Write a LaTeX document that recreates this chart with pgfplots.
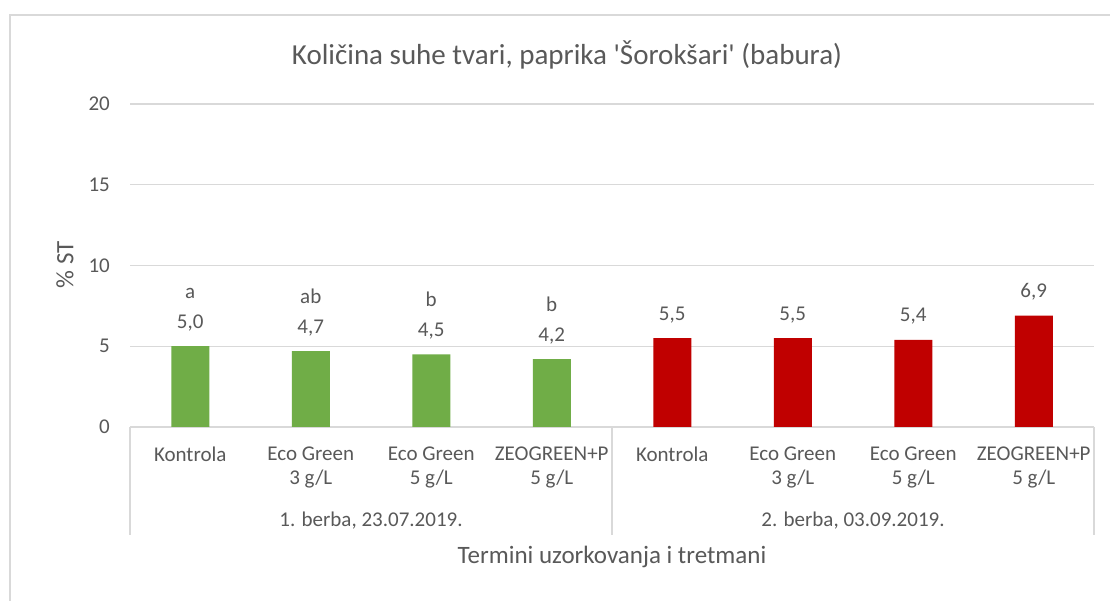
\documentclass[border=0pt]{standalone}
\usepackage{pgfplots}
\pgfplotsset{compat=1.18}
\usepackage{fontspec}
\setmainfont{Carlito}
\definecolor{txt}{HTML}{595959}
\definecolor{gridc}{HTML}{D9D9D9}
\definecolor{gr}{HTML}{70AD47}
\definecolor{rd}{HTML}{C00000}
\newcommand{\fs}[1]{\fontsize{#1}{#1}\selectfont}
\begin{document}
\begin{tikzpicture}[x=1pt,y=1pt]
\useasboundingbox (0,0) rectangle (1110,601);
\fill[white] (0,0) rectangle (1110,601);
\draw[gridc, line width=1.5pt] (10,0) -- (10,586) -- (1110,586);
\begin{axis}[
  at={(130pt,174pt)}, anchor=south west,
  scale only axis, width=964pt, height=323pt,
  xmin=-0.5, xmax=7.5, ymin=0, ymax=20,
  ytick={0,5,10,15,20},
  xtick={0,...,7},
  xticklabels={Kontrola,{Eco Green\\3 g/L},{Eco Green\\5 g/L},{ZEOGREEN+P\\5 g/L},Kontrola,{Eco Green\\3 g/L},{Eco Green\\5 g/L},{ZEOGREEN+P\\5 g/L}},
  xticklabel style={align=center, font=\fontsize{21}{24.5}\selectfont, text=txt, anchor=north, yshift=-16pt},
  yticklabel style={font=\fs{21}, text=txt, anchor=east, inner sep=0pt, xshift=-20pt},
  /pgf/number format/assume math mode=true,
  axis line style={draw=none},
  major tick length=0pt,
  ymajorgrids, grid style={gridc, line width=1.3pt},
  clip=false,
]
\addplot[ybar, bar shift=0pt, bar width=38pt, fill=gr, draw=none,
  nodes near coords={\pgfmathprintnumber[use comma,fixed,fixed zerofill,precision=1,assume math mode=true]{\pgfplotspointmeta}},
  every node near coord/.style={anchor=base, yshift=18pt, font=\fs{21}, text=txt}]
  coordinates {(0,5.0) (1,4.7) (2,4.5) (3,4.2)};
\addplot[ybar, bar shift=0pt, bar width=38pt, fill=rd, draw=none,
  nodes near coords={\pgfmathprintnumber[use comma,fixed,fixed zerofill,precision=1,assume math mode=true]{\pgfplotspointmeta}},
  every node near coord/.style={anchor=base, yshift=18pt, font=\fs{21}, text=txt}]
  coordinates {(4,5.5) (5,5.5) (6,5.4) (7,6.9)};
\addplot[draw=none, mark=none, point meta=explicit symbolic, nodes near coords,
  every node near coord/.style={anchor=base, yshift=48pt, font=\fs{21}, text=txt}]
  coordinates {(0,5.0)[a] (1,4.7)[ab] (2,4.5)[b] (3,4.2)[b]};
\draw[gridc, line width=1.3pt] (axis cs:-0.5,0) -- (axis cs:-0.5,-6.7);
\draw[gridc, line width=1.3pt] (axis cs:3.5,0) -- (axis cs:3.5,-6.7);
\draw[gridc, line width=1.3pt] (axis cs:7.5,0) -- (axis cs:7.5,-6.7);
\node[font=\fs{21}, text=txt] at (axis cs:1.5,-5.82) {1. berba, 23.07.2019.};
\node[font=\fs{21}, text=txt] at (axis cs:5.5,-5.82) {2. berba, 03.09.2019.};
\node[font=\fs{25}, text=txt] at (axis cs:3.5,-8.05) {Termini uzorkovanja i tretmani};
\end{axis}
\node[font=\fs{25}, text=txt, rotate=90] at (65,336) {\% ST};
\node[font=\fs{29}, text=txt] at (567,546) {Količina suhe tvari, paprika \textquotesingle Šorokšari\textquotesingle{} (babura)};
\end{tikzpicture}
\end{document}
